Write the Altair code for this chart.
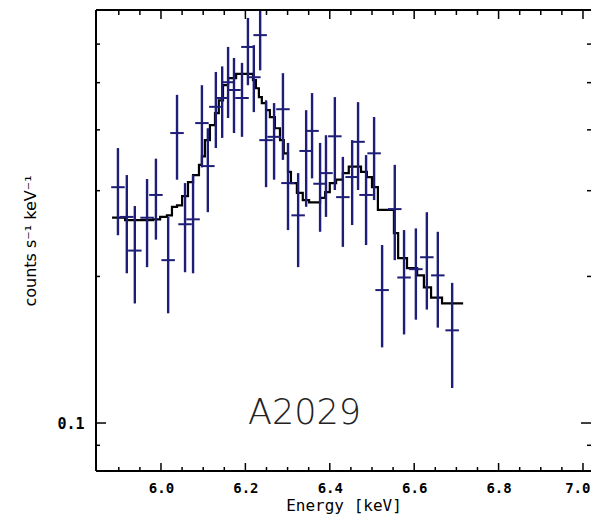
import altair as alt
import pandas as pd

# ---- data ----
energy = [5.898, 5.919, 5.938, 5.967, 5.988, 6.017, 6.038, 6.057, 6.076, 6.097,
          6.111, 6.130, 6.145, 6.159, 6.173, 6.192, 6.206, 6.220, 6.235, 6.249,
          6.268, 6.289, 6.301, 6.325, 6.344, 6.358, 6.377, 6.391, 6.412, 6.431,
          6.453, 6.467, 6.486, 6.505, 6.524, 6.554, 6.576, 6.604, 6.630, 6.656,
          6.690]
flux = [0.305, 0.265, 0.226, 0.264, 0.294, 0.216, 0.394, 0.256, 0.262, 0.413,
        0.337, 0.446, 0.465, 0.501, 0.483, 0.465, 0.592, 0.513, 0.626, 0.381,
        0.387, 0.441, 0.311, 0.267, 0.362, 0.398, 0.310, 0.326, 0.388, 0.291,
        0.320, 0.378, 0.294, 0.358, 0.1875, 0.275, 0.199, 0.207, 0.219, 0.201,
        0.155]
flux_hi = [0.367, 0.323, 0.279, 0.317, 0.349, 0.265, 0.472, 0.311, 0.323, 0.494,
           0.403, 0.526, 0.540, 0.592, 0.562, 0.549, 0.679, 0.597, 0.72, 0.460,
           0.454, 0.523, 0.376, 0.326, 0.439, 0.476, 0.376, 0.390, 0.467, 0.352,
           0.381, 0.456, 0.355, 0.425, 0.232, 0.339, 0.249, 0.251, 0.271, 0.247,
           0.194]
flux_lo = [0.243, 0.203, 0.176, 0.209, 0.238, 0.168, 0.316, 0.204, 0.203, 0.335,
           0.271, 0.367, 0.385, 0.423, 0.394, 0.387, 0.494, 0.435, 0.530, 0.305,
           0.316, 0.347, 0.249, 0.209, 0.278, 0.318, 0.247, 0.265, 0.301, 0.230,
           0.255, 0.301, 0.232, 0.287, 0.143, 0.216, 0.152, 0.163, 0.171, 0.157,
           0.118]
energy_half_width = 0.016

model_e = [5.884, 5.915, 5.981, 5.998, 6.014, 6.026, 6.038, 6.050, 6.064, 6.076,
           6.090, 6.097, 6.104, 6.116, 6.128, 6.137, 6.147, 6.159, 6.178, 6.218,
           6.225, 6.232, 6.239, 6.249, 6.258, 6.270, 6.282, 6.291, 6.301, 6.308,
           6.322, 6.336, 6.351, 6.377, 6.389, 6.400, 6.415, 6.431, 6.445, 6.474,
           6.488, 6.500, 6.514, 6.552, 6.562, 6.583, 6.607, 6.623, 6.640, 6.666,
           6.716]
model_f = [0.264, 0.261, 0.262, 0.265, 0.267, 0.278, 0.280, 0.2925, 0.3125, 0.323,
           0.339, 0.353, 0.381, 0.409, 0.433, 0.460, 0.494, 0.511, 0.521, 0.506,
           0.487, 0.467, 0.454, 0.439, 0.425, 0.403, 0.381, 0.358, 0.328, 0.311,
           0.297, 0.287, 0.284, 0.290, 0.298, 0.311, 0.316, 0.326, 0.336, 0.328,
           0.320, 0.305, 0.274, 0.2455, 0.218, 0.208, 0.201, 0.190, 0.181, 0.176,
           0.176]

x_major = [6.0, 6.2, 6.4, 6.6, 6.8, 7.0]
x_minor = [5.9, 5.95, 6.05, 6.1, 6.15, 6.25, 6.3, 6.35, 6.45, 6.5, 6.55,
           6.65, 6.7, 6.75, 6.85, 6.9, 6.95]
y_major = [0.1]
y_minor = [0.09, 0.2, 0.3, 0.4, 0.5, 0.6]
x_domain = [5.846, 7.019]
y_domain = [0.0797, 0.705]

source_label = ["A2029"]
label_e = [6.34]
label_f = [0.0995]

# ---- chart ----
W, H = 495, 461
NAVY = "#1e1e78"
xs = alt.Scale(domain=x_domain, nice=False, zero=False)
ys = alt.Scale(type="log", domain=y_domain, nice=False)

pts = pd.DataFrame({"e": energy, "f": flux, "lo": flux_lo, "hi": flux_hi})
mdl = pd.DataFrame({"e": model_e, "f": model_f})

x_axis = alt.Axis(values=x_major, format=".1f", ticks=False, domain=False, grid=False,
                  labelFont="DejaVu Sans Mono", labelFontWeight="bold", labelFontSize=14,
                  labelColor="black", labelPadding=10, labelFlush=10, labelFlushOffset=7,
                  titleFont="DejaVu Sans Mono", titleFontSize=16,
                  titleFontWeight="normal", titleColor="black", titlePadding=2)
y_axis = alt.Axis(values=y_major, format=".1f", ticks=False, domain=False, grid=False,
                  labelFont="DejaVu Sans Mono", labelFontWeight="bold", labelFontSize=15,
                  labelColor="black", labelPadding=12,
                  titleFont="DejaVu Sans", titleFontSize=16,
                  titleFontWeight="normal", titleColor="black", titlePadding=18)

# invisible layer that carries both axes
axes_layer = alt.Chart(pts).mark_point(opacity=0, size=1).encode(
    x=alt.X("e:Q", scale=xs, axis=x_axis, title="Energy [keV]"),
    y=alt.Y("f:Q", scale=ys, axis=y_axis, title="counts s⁻¹ keV⁻¹"),
)

model = alt.Chart(mdl).mark_line(color="black", strokeWidth=2.2, interpolate="step-after",
                                 clip=True).encode(
    x=alt.X("e:Q", scale=xs, axis=None),
    y=alt.Y("f:Q", scale=ys, axis=None),
)

v_err = alt.Chart(pts).mark_rule(color=NAVY, strokeWidth=2.4, clip=True).encode(
    x=alt.X("e:Q", scale=xs, axis=None),
    y=alt.Y("lo:Q", scale=ys, axis=None),
    y2="hi:Q",
)
h_err = alt.Chart(pts).transform_calculate(
    e0=f"datum.e - {energy_half_width}", e1=f"datum.e + {energy_half_width}"
).mark_rule(color=NAVY, strokeWidth=2, clip=True).encode(
    x=alt.X("e0:Q", scale=xs, axis=None),
    x2="e1:Q",
    y=alt.Y("f:Q", scale=ys, axis=None),
)

label = alt.Chart(pd.DataFrame({"e": label_e, "f": label_f, "t": source_label})).mark_text(
    font="DejaVu Sans", fontSize=35, fontWeight=200, color="#222222",
    align="center", baseline="alphabetic"
).encode(x=alt.X("e:Q", scale=xs, axis=None), y=alt.Y("f:Q", scale=ys, axis=None), text="t:N")


def xticks(vals, y0, y1):
    return alt.Chart(pd.DataFrame({"v": vals})).mark_rule(color="black", strokeWidth=1.5).encode(
        x=alt.X("v:Q", scale=xs, axis=None), y=alt.value(y0), y2=alt.value(y1))


def yticks(vals, x0, x1):
    return alt.Chart(pd.DataFrame({"v": vals})).mark_rule(color="black", strokeWidth=1.5).encode(
        y=alt.Y("v:Q", scale=ys, axis=None), x=alt.value(x0), x2=alt.value(x1))


one = pd.DataFrame({"k": [0]})
frame_left = alt.Chart(one).mark_rule(color="black", strokeWidth=2).encode(
    x=alt.value(0), y=alt.value(0), y2=alt.value(H))
frame_top = alt.Chart(one).mark_rule(color="black", strokeWidth=2).encode(
    x=alt.value(0), x2=alt.value(W), y=alt.value(0))
frame_bottom = alt.Chart(one).mark_rule(color="black", strokeWidth=2).encode(
    x=alt.value(0), x2=alt.value(W), y=alt.value(H))

chart = alt.layer(
    axes_layer, model, v_err, h_err, label,
    xticks(x_major, H, H - 8), xticks(x_minor, H, H - 4),
    xticks(x_major, 0, 9), xticks(x_minor, 0, 5),
    yticks(y_major, 0, 10), yticks(y_minor, 0, 4),
    yticks(y_major, W, W - 10), yticks(y_minor, W, W - 4),
    frame_left, frame_top, frame_bottom,
).resolve_axis(x="independent", y="independent").properties(
    width=W, height=H,
    autosize=alt.AutoSizeParams(type="none"),
    padding={"left": 88, "top": 2, "right": 0, "bottom": 43},
).configure_view(stroke=None).configure(background="white")

chart.save("out.html", embed_options={"renderer": "svg", "actions": False})
